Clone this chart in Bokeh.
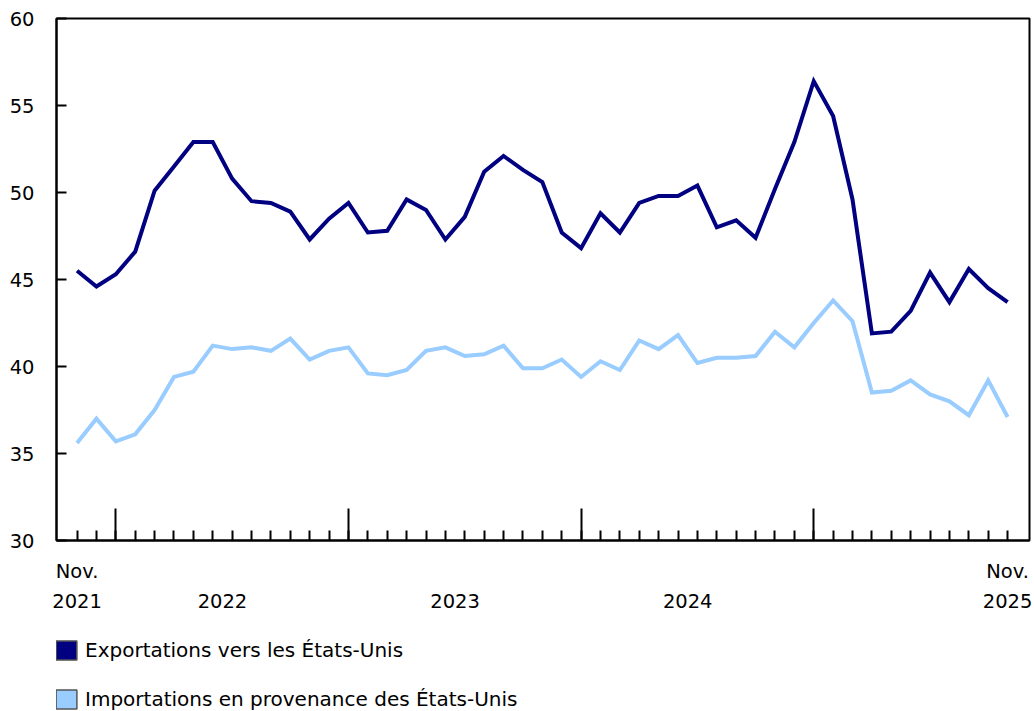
import numpy as np
from bokeh.plotting import figure
from bokeh.layouts import column
from bokeh.models import Range1d, FixedTicker, LinearAxis, Legend, LegendItem, ColumnDataSource
from bokeh.embed import file_html
from bokeh.resources import INLINE

# ---- data ----
months = list(range(49))  # Nov 2021 ... Nov 2025
exports = [45.5, 44.6, 45.3, 46.6, 50.1, 51.5, 52.9, 52.9, 50.8, 49.5, 49.4, 48.9, 47.3, 48.5,
           49.4, 47.7, 47.8, 49.6, 49.0, 47.3, 48.6, 51.2, 52.1, 51.3, 50.6, 47.7,
           46.8, 48.8, 47.7, 49.4, 49.8, 49.8, 50.4, 48.0, 48.4, 47.4, 50.2, 52.9,
           56.4, 54.4, 49.6, 41.9, 42.0, 43.2, 45.4, 43.7, 45.6, 44.5, 43.7]
imports = [35.6, 37.0, 35.7, 36.1, 37.5, 39.4, 39.7, 41.2, 41.0, 41.1, 40.9, 41.6, 40.4, 40.9,
           41.1, 39.6, 39.5, 39.8, 40.9, 41.1, 40.6, 40.7, 41.2, 39.9, 39.9, 40.4,
           39.4, 40.3, 39.8, 41.5, 41.0, 41.8, 40.2, 40.5, 40.5, 40.6, 42.0, 41.1,
           42.5, 43.8, 42.6, 38.5, 38.6, 39.2, 38.4, 38.0, 37.2, 39.2, 37.1]
series_names = ["Exportations vers les États-Unis", "Importations en provenance des États-Unis"]
series_colors = ["#000080", "#99CCFF"]
jan_ticks = [2, 14, 26, 38]
nov_ticks = [0, 48]
nov_labels = ["Nov.", "Nov."]
year_ticks = [0, 7.5, 19.5, 31.5, 48]
year_labels = ["2021", "2022", "2023", "2024", "2025"]
y_ticks = [30, 35, 40, 45, 50, 55, 60]

FONT = "DejaVu Sans"
FS = "19.5px"
FS_LEG = "20px"
W = 1032

p = figure(frame_width=973, frame_height=522, output_backend="svg", toolbar_location=None,
           x_range=Range1d(-1.06, 49.13), y_range=Range1d(30, 60),
           min_border_left=56, min_border_right=3, min_border_top=18, min_border_bottom=80)
p.xgrid.visible = False
p.ygrid.visible = False
p.outline_line_color = "black"
p.outline_line_width = 2
p.background_fill_color = "white"
p.border_fill_color = "white"

# y axis
ya = p.yaxis[0]
ya.ticker = FixedTicker(ticks=y_ticks)
ya.major_tick_in = 10
ya.major_tick_out = 0
ya.minor_tick_line_color = None
ya.axis_line_width = 2
ya.major_tick_line_width = 2
ya.major_label_standoff = 22
ya.major_label_text_font = FONT
ya.major_label_text_font_size = FS
ya.major_label_text_color = "black"

# x main axis (ticks only)
xa = p.xaxis[0]
xa.ticker = FixedTicker(ticks=jan_ticks, minor_ticks=months)
xa.major_tick_in = 32
xa.major_tick_out = 0
xa.minor_tick_in = 10
xa.minor_tick_out = 0
xa.axis_line_width = 2
xa.major_tick_line_width = 2
xa.minor_tick_line_width = 2
xa.minor_tick_line_color = "black"
xa.major_label_overrides = {t: "" for t in jan_ticks}
xa.major_label_text_font_size = "1px"
xa.major_label_standoff = 0

# "Nov." labels
nov_axis = LinearAxis(ticker=FixedTicker(ticks=nov_ticks),
                      major_label_overrides=dict(zip(nov_ticks, nov_labels)),
                      axis_line_color=None, major_tick_line_color=None, minor_tick_line_color=None,
                      major_tick_in=0, major_tick_out=0, major_label_standoff=19,
                      major_label_text_font=FONT, major_label_text_font_size=FS,
                      major_label_text_color="black")
p.add_layout(nov_axis, "below")

# year labels
year_axis = LinearAxis(ticker=FixedTicker(ticks=year_ticks),
                       major_label_overrides=dict(zip(year_ticks, year_labels)),
                       axis_line_color=None, major_tick_line_color=None, minor_tick_line_color=None,
                       major_tick_in=0, major_tick_out=0, major_label_standoff=8,
                       major_label_text_font=FONT, major_label_text_font_size=FS,
                       major_label_text_color="black")
p.add_layout(year_axis, "below")

# lines
p.line(months, exports, line_color=series_colors[0], line_width=4, line_join="miter")
p.line(months, imports, line_color=series_colors[1], line_width=4, line_join="miter")

# ---- legend in a separate strip below the chart ----
lg = figure(width=W, height=91, output_backend="svg", toolbar_location=None,
            x_range=Range1d(0, 1), y_range=Range1d(0, 1),
            x_axis_location=None, y_axis_location=None, min_border=0)
lg.xgrid.visible = False
lg.ygrid.visible = False
lg.outline_line_color = None
lg.background_fill_color = "white"
lg.border_fill_color = "white"

items = []
for name, col in zip(series_names, series_colors):
    src = ColumnDataSource(dict(l=[np.nan], r=[np.nan], t=[np.nan], b=[np.nan]))
    rr = lg.quad(left="l", right="r", top="t", bottom="b", source=src,
                 fill_color=col, line_color="#555555", line_width=1.5)
    items.append(LegendItem(label=name, renderers=[rr]))
legend = Legend(items=items, location=(-3, 0), orientation="vertical",
                glyph_width=26, glyph_height=24, spacing=25, padding=0, margin=0,
                border_line_color=None, background_fill_alpha=0,
                label_text_font=FONT, label_text_font_size=FS_LEG, label_standoff=6,
                label_text_color="black")
lg.add_layout(legend, "center")

layout = column(p, lg, spacing=0)
open("out.html", "w").write(file_html(layout, INLINE))
